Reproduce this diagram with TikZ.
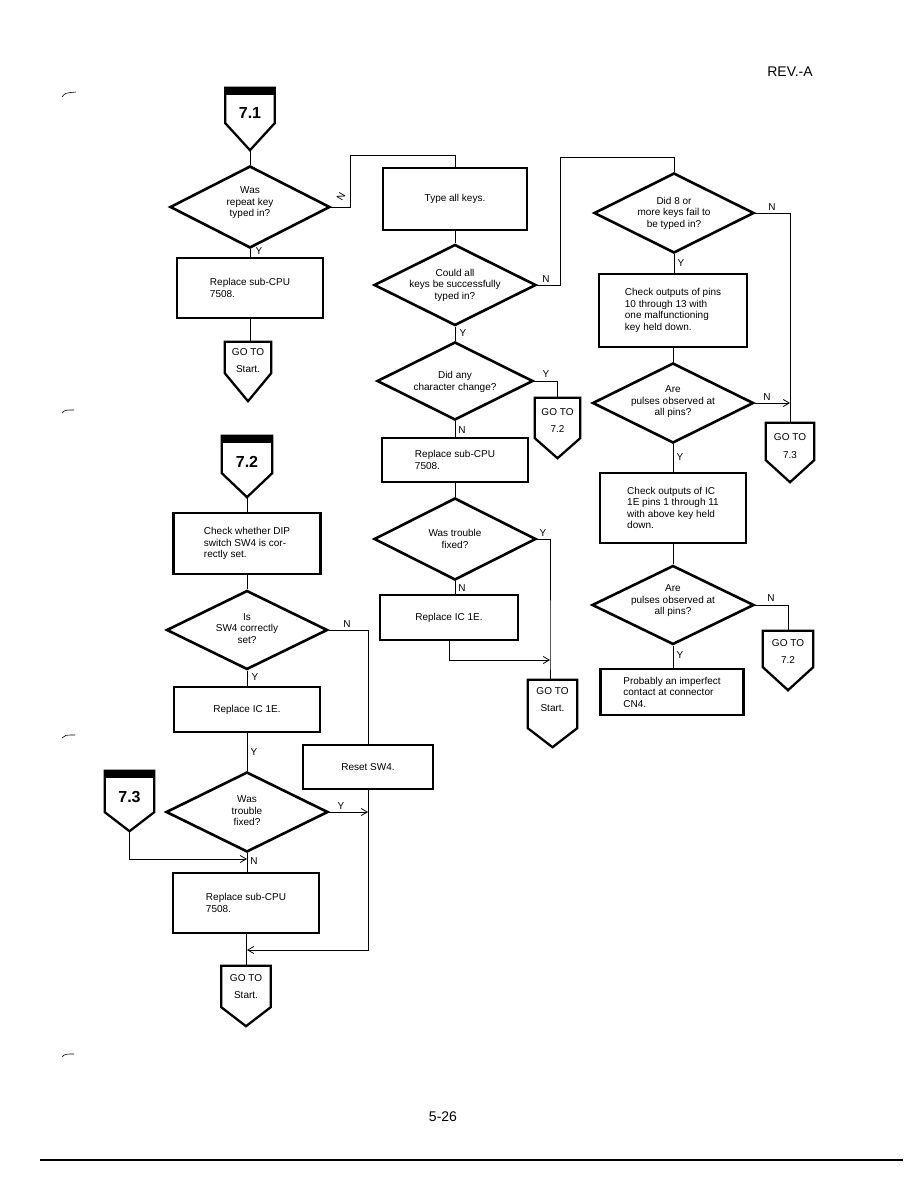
\documentclass[tikz,border=0pt]{standalone}
\usepackage{fontspec}
\setmainfont{Liberation Sans}
\usetikzlibrary{arrows.meta,calc,shapes.geometric}
\newcommand\fs{\fontsize{10}{11.5}\selectfont}
\newcommand\penta[2]{%
  \coordinate (#1tip) at ([yshift=-#2pt]#1.south);
  \draw[shapeline] (#1.north west) -- (#1.north east) -- (#1.south east) -- (#1tip) -- (#1.south west) -- cycle;}
\newcommand\topbarfill[1]{\fill ([yshift=1pt]#1.north west) rectangle ([yshift=-7pt]#1.north east);}
\tikzset{
  procbox/.style={draw, line width=2.6pt, inner sep=0pt, align=left, font=\fs},
  decision/.style={draw, diamond, line width=2.6pt, inner sep=0pt},
  shapeline/.style={line width=2.3pt, line join=miter},
  frame/.style={inner sep=0pt},
  flow/.style={line width=0.8pt},
  arr/.style={flow, -{Straight Barb[length=6pt,width=7pt]}},
  lbl/.style={font=\fs, inner sep=0pt},
  txt/.style={font=\fs, align=center, inner sep=0pt},
  hdr/.style={font=\fontsize{16}{18}\selectfont\bfseries, inner sep=0pt},
}
\begin{document}
\begin{tikzpicture}[x=1pt,y=-1pt]
\useasboundingbox (0,0) rectangle (918,1188);
% page furniture
\node[font=\fontsize{14}{16}\selectfont, inner sep=0pt] (rev) at (790,72) {REV.-A};
\node[font=\fontsize{14}{16}\selectfont, inner sep=0pt] (pg) at (443,1117) {5-26};
\draw[line width=2.5pt] (40,1160) -- (903,1160);
\draw[line width=0.6pt] (62,97) .. controls (65,93) .. (76,92);
\draw[line width=0.6pt] (62,413) .. controls (65,410) .. (74,410);
\draw[line width=0.6pt] (62,738) .. controls (65,735) .. (75,735);
\draw[line width=0.6pt] (62,1057) .. controls (65,1054) .. (74,1054);

% ---------- headers ----------
\node[frame, minimum width=49, minimum height=35] (h1) at (250,105.5) {};
\topbarfill{h1}\penta{h1}{27}
\node[hdr] (h1t) at (250,113) {7.1};

\node[frame, minimum width=50, minimum height=37] (h2) at (247,454.5) {};
\topbarfill{h2}\penta{h2}{24}
\node[hdr] (h2t) at (247,462) {7.2};

\node[frame, minimum width=49, minimum height=41] (h3) at (129.5,791.5) {};
\topbarfill{h3}\penta{h3}{19}
\node[hdr] (h3t) at (129.5,797) {7.3};

% ---------- GO TO terminals ----------
\node[frame, minimum width=46, minimum height=31] (g1) at (248,357.5) {};
\penta{g1}{28}
\node[txt] (g1a) at (248,352) {GO TO};
\node[txt] (g1b) at (248,369) {Start.};

\node[frame, minimum width=45, minimum height=40] (g2) at (557.5,418) {};
\penta{g2}{20}
\node[txt] (g2a) at (557.5,412) {GO TO};
\node[txt] (g2b) at (557.5,429) {7.2};

\node[frame, minimum width=49, minimum height=48] (g3) at (552.5,704) {};
\penta{g3}{19}
\node[txt] (g3a) at (552.5,691) {GO TO};
\node[txt] (g3b) at (552.5,708) {Start.};

\node[frame, minimum width=48, minimum height=37] (g4) at (790,441.5) {};
\penta{g4}{22}
\node[txt] (g4a) at (790,437) {GO TO};
\node[txt] (g4b) at (790,455) {7.3};

\node[frame, minimum width=50, minimum height=36] (g5) at (788,649) {};
\penta{g5}{23}
\node[txt] (g5a) at (788,643) {GO TO};
\node[txt] (g5b) at (788,660) {7.2};

\node[frame, minimum width=49, minimum height=41] (g6) at (246,986.5) {};
\penta{g6}{19}
\node[txt] (g6a) at (246,978) {GO TO};
\node[txt] (g6b) at (246,995) {Start.};

% ---------- process boxes ----------
\node[procbox, minimum width=146, minimum height=60] (b1) at (250,288) {Replace sub-CPU\\7508.};
\node[procbox, minimum width=144, minimum height=62] (b2) at (455,199) {Type all keys.};
\node[procbox, minimum width=146, minimum height=44] (b4) at (455,460) {Replace sub-CPU\\7508.};
\node[procbox, minimum width=138, minimum height=45] (b5) at (449,617.5) {Replace IC 1E.};
\node[procbox, minimum width=148, minimum height=73] (b6) at (673,310.5) {Check outputs of pins\\10 through 13 with\\one malfunctioning\\key held down.};
\node[procbox, minimum width=146, minimum height=70] (b7) at (673,508) {Check outputs of IC\\1E pins 1 through 11\\with above key held\\down.};
\node[procbox, minimum width=143, minimum height=46] (b8) at (672,692) {Probably an imperfect\\contact at connector\\CN4.};
\node[procbox, minimum width=147, minimum height=61] (b9) at (247,543.5) {Check whether DIP\\switch SW4 is cor-\\rectly set.};
\node[procbox, minimum width=146, minimum height=45] (b11) at (247,709.5) {Replace IC 1E.};
\node[procbox, minimum width=130, minimum height=44] (b10) at (368,767) {Reset SW4.};
\node[procbox, minimum width=146, minimum height=60] (b12) at (246,903) {Replace sub-CPU\\7508.};

% ---------- decisions ----------
\node[decision, minimum width=160, minimum height=82] (d1) at (250,207) {};
\node[txt] (d1t) at (250,203) {Was\\repeat key\\typed in?};
\node[decision, minimum width=162, minimum height=81] (d2) at (455,285) {};
\node[txt] (d2t) at (455,285) {Could all\\keys be successfully\\typed in?};
\node[decision, minimum width=156, minimum height=78] (d3) at (455,381) {};
\node[txt] (d3t) at (455,382) {Did any\\character change?};
\node[decision, minimum width=162, minimum height=82] (d4) at (455,539) {};
\node[txt] (d4t) at (455,539) {Was trouble\\fixed?};
\node[decision, minimum width=160, minimum height=80] (d5) at (674,213) {};
\node[txt] (d5t) at (674,213) {Did 8 or\\more keys fail to\\be typed in?};
\node[decision, minimum width=161, minimum height=80] (d6) at (673,403) {};
\node[txt] (d6t) at (673,402) {Are\\pulses observed at\\all pins?};
\node[decision, minimum width=162, minimum height=79] (d7) at (673,605) {};
\node[txt] (d7t) at (673,601) {Are\\pulses observed at\\all pins?};
\node[decision, minimum width=161, minimum height=79] (d8) at (247,630) {};
\node[txt] (d8t) at (247,628.5) {Is\\SW4 correctly\\set?};
\node[decision, minimum width=162, minimum height=80] (d9) at (247,812) {};
\node[txt] (d9t) at (247,811) {Was\\trouble\\fixed?};

% ---------- junction coordinates ----------
\coordinate (c1) at (350,155);
\coordinate (c2) at (560,157);
\coordinate (j1) at (550,660);
\coordinate (j2) at (247,950);
\coordinate (j3) at (247,859);

% ---------- connectors ----------
\draw[flow] (h1tip) -- (d1.north);
\draw[flow] (d1.east) -| (c1) -| (b2.north);
\draw[flow] (d1.south) -- (b1.north);
\draw[flow] (b1.south) -- (b1.south |- g1.north);
\draw[flow] (b2.south) -- (d2.north);
\draw[flow] (d2.east) -| (c2) -| (d5.north);
\draw[flow] (d2.south) -- (d3.north);
\draw[flow] (d3.east) -| (g2.north);
\draw[flow] (d3.south) -- (b4.north);
\draw[flow] (b4.south) -- (d4.north);
\draw[flow] (d4.east) -| (j1) -- (j1 |- g3.north);
\draw[flow] (d4.south) -- (d4.south |- b5.north);
\draw[arr] (b5.south) |- (j1);
\draw[flow] (d5.east) -| (g4.north);
\draw[flow] (d5.south) -- (d5.south |- b6.north);
\draw[flow] (b6.south) -- (d6.north);
\draw[arr] (d6.east) -- (d6.east -| g4.north);
\draw[flow] (d6.south) -- (b7.north);
\draw[flow] (b7.south) -- (d7.north);
\draw[flow] (d7.east) -| (g5.north);
\draw[flow] (d7.south) -- (d7.south |- b8.north);

\draw[flow] (h2tip) -- (b9.north);
\draw[flow] (b9.south) -- (d8.north);
\draw[flow] (d8.east) -| (b10.north);
\draw[flow] (d8.south) -- (b11.north);
\draw[flow] (b11.south) -- (d9.north);
\draw[arr] (d9.east) -- (d9.east -| b10.south);
\draw[arr] (b10.south) |- (j2);
\draw[arr] (h3tip) |- (j3);
\draw[flow] (d9.south) -- (d9.south |- b12.north);
\draw[flow] (b12.south) -- (b12.south |- g6.north);

% ---------- Y / N labels ----------
\node[lbl, rotate=60] (l1) at (341,197) {N};
\node[lbl] (l2) at (259,251) {Y};
\node[lbl] (l3) at (546,279) {N};
\node[lbl] (l4) at (463,333) {Y};
\node[lbl] (l5) at (546,374) {Y};
\node[lbl] (l6) at (462,430) {N};
\node[lbl] (l7) at (543,533) {Y};
\node[lbl] (l8) at (462,588) {N};
\node[lbl] (l9) at (772,207) {N};
\node[lbl] (l10) at (681,263) {Y};
\node[lbl] (l11) at (767,397) {N};
\node[lbl] (l12) at (680,457) {Y};
\node[lbl] (l13) at (771,598) {N};
\node[lbl] (l14) at (680,655) {Y};
\node[lbl] (l15) at (347,624) {N};
\node[lbl] (l16) at (255,677) {Y};
\node[lbl] (l17) at (254,752) {Y};
\node[lbl] (l18) at (341,806) {Y};
\node[lbl] (l19) at (254,861) {N};
\end{tikzpicture}
\end{document}
